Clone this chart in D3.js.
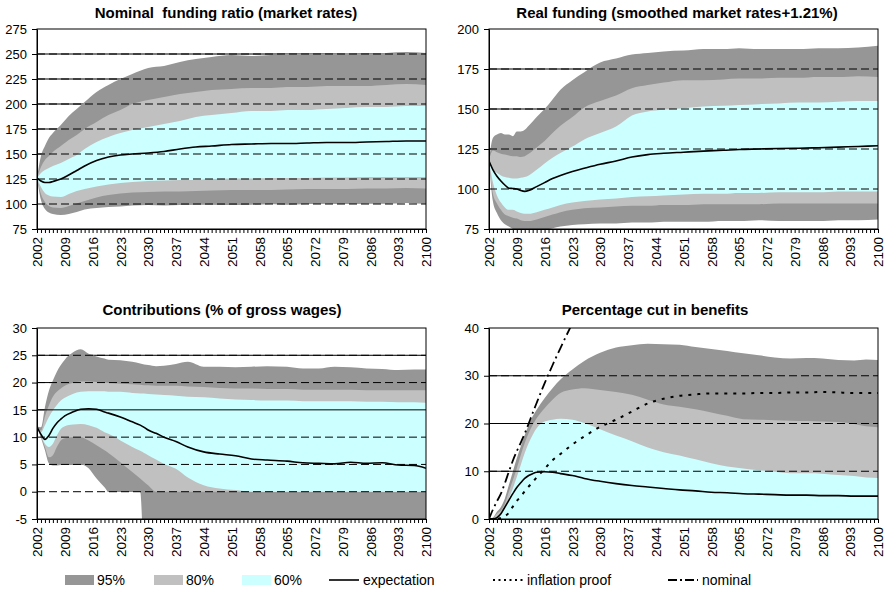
<!DOCTYPE html>
<html>
<head>
<meta charset="utf-8">
<script src="https://cdn.jsdelivr.net/npm/d3@7"></script>
<style>
  body { margin: 0; background: #fff; }
  text { font-family: "Liberation Sans", Arial, sans-serif; }
</style>
</head>
<body>
<div id="chart"></div>
<script>
// ---- nominal funding ratio (market rates)
let nomYears = [2002,2003,2004,2005,2006,2008,2010,2012,2014,2017,2020,2023,2026,2030,2034,2038,2042,2046,2051,2056,2061,2065,2070,2075,2080,2085,2090,2095,2100];
let nomHi95 = [126,148,158,166,171,179,188,195,202,212,219,225,230,236,238,242,245,247,249,248,249,250,250,250,251,250,251,252,251];
let nomHi80 = [126,137,144,148,152,158,164,169,175,182,189,194,200,204,207,210,212,214,215,216,216,217,217,218,218,218,219,220,219];
let nomHi60 = [126,131,134,136,138,141,145,149,155,162,167,171,174,177,180,183,187,189,191,193,193,194,194,195,196,197,197,198,198];
let nomExp  = [126,123,121.5,121.5,122.5,125,129,133.5,138,143.5,147,149,150,151,152.5,155,157,158,159.5,160,160.5,160.5,161,161.5,161.5,162,162.5,163,163];
let nomLo60 = [126,117,111,108.5,107.5,107,110,113,115,117.5,119.5,121,122,123,123.5,124,124,125,125.5,125.5,126,126,126,126.5,126.5,127,127,127,127];
let nomLo80 = [126,110,102,98,96.5,96,98,100.5,103,106.5,109,110.5,111.5,112,112.5,112.5,113,113.5,114,114,114,114.5,115,115,115,115.5,115.5,116,115.5];
let nomLo95 = [126,104,95,91.5,90,89,90,92,94.5,96,97,97.5,98.5,99,98.5,99,99.5,99.5,99,99.5,100,99.5,100,100.5,100,100.5,100.5,101,100.5];

// ---- real funding (smoothed market rates + 1.21%)
let realYears = [2002,2003,2004,2005,2006,2007,2008,2009,2010,2011,2012,2014,2016,2018,2020,2023,2026,2030,2034,2038,2042,2046,2051,2056,2061,2065,2070,2075,2080,2085,2090,2095,2100];
let realHi95 = [118,132,134,135,134,134,133,136,136,137,139.5,145,150,156,162,168,173,179,181.5,184,185,186,186.5,187.5,187.5,188,187.5,187.5,187.5,188,188,188.5,189.5];
let realHi80 = [118,124,123,122,121.5,121,120.5,120.5,120,120.5,122,126,130,135,139.5,145,151,155,158.5,163,165,166.5,168,168,168.5,169,169,169.5,169.5,170,170,170.5,170];
let realHi60 = [118,112,110,108.5,107.5,107,106.5,106.5,107,107.5,108.5,112,116,119.5,122.5,126.5,131,135,139,146,148.5,149.5,150.5,151.5,152,152.5,153,153.5,154,154,154.5,155,155];
let realExp  = [117.5,112,108,105,102.5,100.5,100.3,100,99,98.5,99,101.5,104,106.5,108.5,111,113,115.5,117.5,120,121.5,122.3,123,123.7,124.2,124.7,125,125.3,125.5,125.8,126.2,126.6,127];
let realLo60 = [118,104,96,91.5,88.5,87,87,86,85,84.5,84.5,85.5,87,88.5,90,91.5,92.5,93.5,94,95,95.5,96,96.5,97,97,97.5,97.5,98,98,98,98.5,98.5,98.5];
let realLo80 = [118,97,91,87,84,83,82,81.5,80.5,80,80,81,82.5,84,85.5,87,88,88.5,89,89.5,89.5,90,90,90.5,90.5,90.5,90.5,91,91,91,91,91,91];
let realLo95 = [118,92,85,80.5,78,76.5,75,74,73.5,73,73,73.5,74.5,75.5,76.5,77.5,78,78.5,78.5,79,79,79.5,79.5,79.5,80,80,80.5,80,80,80,80.5,80.5,81];

// ---- contributions (% of gross wages)
let conYears = [2002,2003,2004,2005,2006,2007,2008,2009,2011,2013,2015,2017,2019,2020,2023,2026,2028,2029,2030,2032,2034,2037,2040,2044,2048,2052,2056,2060,2065,2069,2073,2077,2081,2085,2089,2093,2097,2100];
let conHi95 = [12,11.8,15.5,18.5,20.4,22,23.2,24.2,25.5,26.1,25.3,24.8,24.4,24.2,24.1,23.8,23.5,23.3,23.2,23,23.1,23.4,23.8,22.9,22.9,22.8,22.9,23,22.9,22.6,22.6,22.9,22.8,22.6,22.5,22.3,22.4,22.4];
let conHi80 = [12,11.2,13.8,15.8,17.4,18.3,18.9,19.4,19.9,20.2,20.2,20.1,20,19.9,19.8,19.7,19.6,19.5,19.5,19.4,19.4,19.4,19.3,19.2,19,18.9,18.9,18.8,18.8,18.7,18.7,18.7,18.7,18.6,18.6,18.6,18.6,18.6];
let conHi60 = [12,10.9,12.2,13.7,14.9,15.9,16.7,17.2,17.9,18.3,18.4,18.4,18.4,18.3,18.3,18.1,18,18,17.9,17.8,17.7,17.6,17.4,17.3,17.1,16.9,16.8,16.7,16.7,16.6,16.6,16.6,16.6,16.5,16.5,16.4,16.4,16.3];
let conExp  = [11.9,10.5,9.6,10.3,11.6,12.6,13.3,13.9,14.6,15.1,15.2,15.1,14.6,14.4,13.7,12.8,12.2,11.8,11.3,10.7,10,9.2,8.2,7.3,6.9,6.6,6,5.8,5.6,5.3,5.2,5.1,5.4,5.2,5.3,4.9,4.8,4.3];
let conLo60 = [12,10.3,8.8,8.2,8.8,10.3,11.5,12,12.3,12.4,12.2,11.7,10.9,10.6,9.4,8.2,7.5,7.1,6.7,5.9,5.1,4.2,2.6,1.2,0.6,0.3,0,0,0,0,0,0,0,0,0,0,0,0];
let conLo80 = [12,10.1,8.2,6.3,6.7,8.2,9.4,9.8,10,10,9.4,8.5,7.6,7.1,5.4,3.6,2.4,1.8,1.2,0,0,0,0,0,0,0,0,0,0,0,0,0,0,0,0,0,0,0];
let conLo95 = [12,9.9,7.6,5.2,4.8,4.8,4.9,5,5,5,4.3,2.4,0.8,0,0,0,0,-12,-12,-12,-12,-12,-12,-12,-12,-12,-12,-12,-12,-12,-12,-12,-12,-12,-12,-12,-12,-12];

// ---- percentage cut in benefits
let cutYears = [2002,2003,2004,2005,2006,2007,2008,2009,2010,2011,2012,2013,2014,2016,2018,2020,2023,2026,2030,2034,2038,2042,2046,2050,2054,2058,2062,2066,2070,2074,2078,2082,2086,2090,2094,2097,2100];
let cutHi95 = [0,0.3,1.5,2.5,4.3,7.1,9.9,12.7,15.2,17.6,19.7,21.5,22.9,25.3,27.4,29.2,31.3,33.1,34.8,35.9,36.4,36.7,36.6,36.5,36,35.6,35.2,34.7,34.3,33.8,33.6,33.7,33.6,33.3,33.2,33.4,33.3];
let cutHi80 = [0,0.2,1.1,1.8,3.2,5.7,8.1,10.6,13.4,15.9,18,19.7,21.1,23.2,25,26.4,27.1,27.4,27,26.6,26,25,24,23.5,23,22.3,21.6,20.9,20.8,20.7,20.6,20.5,20.4,20.3,19.9,19.4,19.2];
let cutHi60 = [0,0.1,0.4,1.1,2.2,4.3,6.4,8.8,11.3,13.8,15.9,17.6,19,20.4,20.8,21,20.8,20.1,18.8,17.5,16.3,15,14,13.3,12.5,11.7,11,10.6,10.2,9.9,9.6,9.6,9.5,9.2,9,8.7,8.6];
let cutExp  = [0,0.05,0.3,1.1,2.5,3.9,5.3,6.6,7.6,8.5,9.1,9.5,9.8,9.9,9.8,9.5,9.1,8.5,7.9,7.4,7,6.7,6.4,6.1,5.9,5.6,5.5,5.3,5.2,5.1,5,5,4.9,4.9,4.8,4.8,4.8];
let cutInfl = [0,0,0,0.2,0.6,1.3,2.6,3.8,4.7,5.8,6.8,7.7,8.7,10.5,12.3,13.6,15.6,17.3,19.3,20.8,22.5,24.2,25.2,25.8,26.1,26.3,26.3,26.3,26.4,26.4,26.5,26.5,26.6,26.5,26.4,26.4,26.4];
let cutNom  = [0,2,3.7,5.3,7.5,9.9,12.2,14.2,16,17.9,20,22.2,24.3,28.4,32.2,35.8,41,46,null,null,null,null,null,null,null,null,null,null,null,null,null,null,null,null,null,null,null];

let legendLabels = ["95%", "80%", "60%", "expectation", "inflation proof", "nominal"];

let colDark = "#969696", colLight = "#c0c0c0", colCyan = "#ccffff";

let panels = [
  { title: "Nominal  funding ratio (market rates)", tx: 226, ty: 18,
    left: 37, right: 426, top: 29, bottom: 229, dom: [75, 275], ticks: d3.range(75, 276, 25),
    years: nomYears, hi95: nomHi95, hi80: nomHi80, hi60: nomHi60, exp: nomExp, lo60: nomLo60, lo80: nomLo80, lo95: nomLo95, solid: [] },
  { title: "Real funding (smoothed market rates+1.21%)", tx: 677, ty: 18,
    left: 489, right: 878, top: 29, bottom: 229, dom: [75, 200], ticks: d3.range(75, 201, 25),
    years: realYears, hi95: realHi95, hi80: realHi80, hi60: realHi60, exp: realExp, lo60: realLo60, lo80: realLo80, lo95: realLo95, solid: [] },
  { title: "Contributions (% of gross wages)", tx: 222, ty: 315,
    left: 37, right: 426, top: 328, bottom: 519, dom: [-5, 30], ticks: d3.range(-5, 31, 5),
    years: conYears, hi95: conHi95, hi80: conHi80, hi60: conHi60, exp: conExp, lo60: conLo60, lo80: conLo80, lo95: conLo95, solid: [15] },
  { title: "Percentage cut in benefits", tx: 655, ty: 315,
    left: 489, right: 878, top: 328, bottom: 519, dom: [0, 40], ticks: d3.range(0, 41, 10),
    years: cutYears, hi95: cutHi95, hi80: cutHi80, hi60: cutHi60, exp: cutExp, lo60: null, lo80: null, lo95: null, solid: [],
    infl: cutInfl, nom: cutNom }
];

let width = 885, height = 594;

let svg = d3.select("#chart").append("svg")
  .attr("width", width)
  .attr("height", height);

svg.append("rect").attr("width", width).attr("height", height).attr("fill", "#fff");

panels.forEach((p, pi) => {
  let x = d3.scaleLinear().domain([2002, 2100]).range([p.left, p.right]);
  let y = d3.scaleLinear().domain(p.dom).range([p.bottom, p.top]);
  let g = svg.append("g");

  let clipId = "clip" + pi;
  svg.append("clipPath").attr("id", clipId)
    .append("rect")
    .attr("x", p.left).attr("y", p.top)
    .attr("width", p.right - p.left).attr("height", p.bottom - p.top);

  let plot = g.append("g").attr("clip-path", `url(#${clipId})`);
  let inner = p.ticks.filter(t => t > p.dom[0] && t < p.dom[1]);

  // solid gridlines, hidden later below the bands by a white fill
  plot.selectAll("line.grid")
    .data(inner)
    .enter().append("line")
    .attr("x1", p.left).attr("x2", p.right)
    .attr("y1", d => y(d)).attr("y2", d => y(d))
    .attr("stroke", "#000").attr("stroke-width", 1);

  let idx = d3.range(p.years.length);
  let lo = arr => i => arr ? y(arr[i]) : p.bottom;
  let band = (loArr, hiArr) => d3.area()
    .x(i => x(p.years[i]))
    .y0(lo(loArr))
    .y1(i => y(hiArr[i]))
    .curve(d3.curveMonotoneX);

  if (p.lo95) {
    plot.append("path")
      .attr("d", d3.area().x(i => x(p.years[i])).y0(p.bottom + 2).y1(i => y(p.lo95[i])).curve(d3.curveMonotoneX)(idx))
      .attr("fill", "#fff");
  }
  plot.append("path").attr("d", band(p.lo95, p.hi95)(idx)).attr("fill", colDark);
  plot.append("path").attr("d", band(p.lo80, p.hi80)(idx)).attr("fill", colLight);
  plot.append("path").attr("d", band(p.lo60, p.hi60)(idx)).attr("fill", colCyan);

  // dashed gridlines on top
  plot.selectAll("line.dash")
    .data(inner)
    .enter().append("line")
    .attr("x1", p.left).attr("x2", p.right)
    .attr("y1", d => y(d)).attr("y2", d => y(d))
    .attr("stroke", "#000").attr("stroke-width", 1)
    .attr("stroke-dasharray", d => p.solid.includes(d) ? null : "8,4");

  let line = arr => d3.line()
    .defined(i => arr[i] != null)
    .x(i => x(p.years[i]))
    .y(i => y(arr[i]))
    .curve(d3.curveMonotoneX);

  if (p.infl) {
    plot.append("path").attr("d", line(p.infl)(idx))
      .attr("fill", "none").attr("stroke", "#000").attr("stroke-width", 2)
      .attr("stroke-dasharray", "3,6");
    plot.append("path").attr("d", line(p.nom)(idx))
      .attr("fill", "none").attr("stroke", "#000").attr("stroke-width", 1.8)
      .attr("stroke-dasharray", "10,4,2,4");
  }
  plot.append("path").attr("d", line(p.exp)(idx))
    .attr("fill", "none").attr("stroke", "#000").attr("stroke-width", 1.6);

  // frame
  g.append("rect")
    .attr("x", p.left).attr("y", p.top)
    .attr("width", p.right - p.left).attr("height", p.bottom - p.top)
    .attr("fill", "none").attr("stroke", "#000").attr("stroke-width", 1);

  let xAxis = g.append("g")
    .attr("transform", `translate(0,${p.bottom})`)
    .call(d3.axisBottom(x)
      .tickValues(d3.range(2002, 2101))
      .tickSizeInner(4).tickSizeOuter(0)
      .tickFormat(d => (d - 2002) % 7 === 0 ? d : ""));
  xAxis.select(".domain").attr("stroke", "#000");
  xAxis.selectAll("text")
    .attr("transform", "rotate(-90)")
    .attr("x", -8).attr("y", 0).attr("dy", "0.35em")
    .style("text-anchor", "end")
    .style("font-size", "13.5px")
    .style("font-family", "'Liberation Sans', Arial, sans-serif")
    .attr("fill", "#000");

  let yAxis = g.append("g")
    .attr("transform", `translate(${p.left},0)`)
    .call(d3.axisLeft(y).tickValues(p.ticks).tickSizeInner(5).tickSizeOuter(0).tickPadding(5)
      .tickFormat(d => String(d)));
  yAxis.select(".domain").attr("stroke", "#000");
  yAxis.selectAll("text")
    .style("font-size", "13px")
    .style("font-family", "'Liberation Sans', Arial, sans-serif")
    .attr("fill", "#000");

  svg.append("text")
    .attr("x", p.tx).attr("y", p.ty)
    .attr("text-anchor", "middle")
    .style("white-space", "pre")
    .style("font-size", "15px")
    .style("font-weight", "bold")
    .text(p.title);
});

// legend
let lg = svg.append("g").attr("transform", "translate(0,580)");
let legendFont = "'Liberation Sans Narrow', 'Arial Narrow', 'Liberation Sans', sans-serif";
let swatchCols = [colDark, colLight, colCyan];
let swatchX = [65, 154, 242];
swatchCols.forEach((c, i) => {
  lg.append("rect").attr("x", swatchX[i]).attr("y", -5).attr("width", 29).attr("height", 10).attr("fill", c);
  lg.append("text").attr("x", swatchX[i] + 32).attr("y", 0).attr("dy", "0.35em")
    .style("font-family", legendFont).style("font-size", "14px").text(legendLabels[i]);
});
let lineX = [329, 493, 668];
let lineDash = [null, "2,3.5", "9,3,2,3"];
lineX.forEach((lx, i) => {
  lg.append("line").attr("x1", lx).attr("x2", lx + 30).attr("y1", 0).attr("y2", 0)
    .attr("stroke", "#000").attr("stroke-width", i === 0 ? 1.6 : 2)
    .attr("stroke-dasharray", lineDash[i]);
  lg.append("text").attr("x", lx + 34).attr("y", 0).attr("dy", "0.35em")
    .style("font-family", legendFont).style("font-size", "14px").text(legendLabels[i + 3]);
});
</script>
</body>
</html>
